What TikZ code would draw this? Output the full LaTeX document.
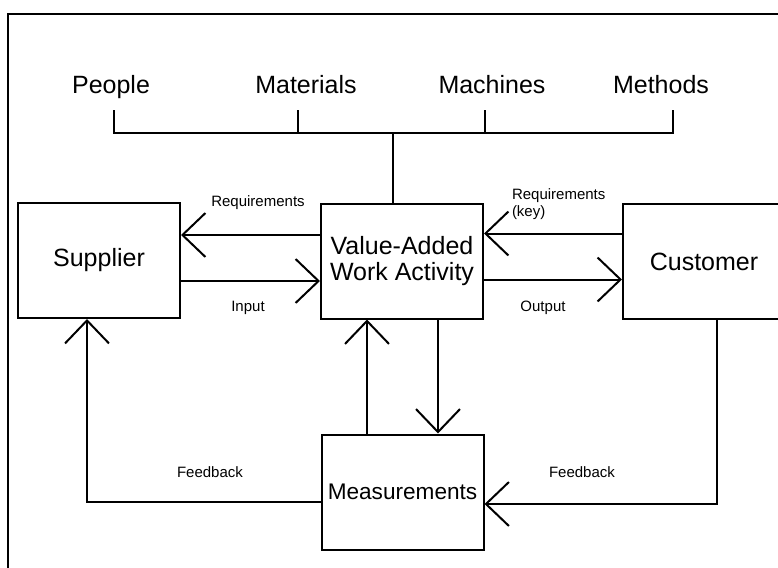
\documentclass[tikz,border=0pt]{standalone}
\usepackage{fontspec}
\setmainfont{Liberation Sans}
\usepackage{tikz}
\usetikzlibrary{arrows.meta, positioning, calc}

\begin{document}
\begin{tikzpicture}[x=0.5pt, y=-0.5pt, line width=1pt,
    box/.style={draw, line width=1pt, minimum width=81pt, minimum height=57.5pt, inner xsep=1pt, align=center, font=\fontsize{12.5}{13}\selectfont},
    res/.style={font=\fontsize{12.5}{13}\selectfont, anchor=base},
    lbl/.style={font=\fontsize{7.5}{8.5}\selectfont, align=left, inner sep=0pt},
    barb/.style={-{Straight Barb[length=11.5pt, width=22pt]}}]

    \useasboundingbox (0,0) rectangle (778,568);

    % Frame
    \draw (8,568) -- (8,14) -- (778,14);

    % Resources
    \node[res] (people) at (111,93) {People};
    \node[res] (materials) at (306,93) {Materials};
    \node[res] (machines) at (492,93) {Machines};
    \node[res] (methods) at (661,93) {Methods};

    \coordinate (c1) at (114,110);
    \coordinate (c2) at (298,110);
    \coordinate (c3) at (485,110);
    \coordinate (c4) at (673,110);

    % Boxes
    \node[box] (supplier) at (99,260.5) {Supplier};
    \node[box] (va) at (402,261) {Value-Added\\Work Activity};
    \node[box] (customer) at (704,261.5) {Customer};
    \node[box, font=\fontsize{11.3}{13}\selectfont] (meas) at (402.5,492) {Measurements};

    % Bracket
    \draw (c1) -- ++(0,23) -| (c4);
    \draw (c2) -- ++(0,23);
    \draw (c3) -- ++(0,23);
    \draw ([xshift=-4.5pt]va.north) -- ++(0,-71);

    % Arrows between boxes
    \draw[barb] ([yshift=13pt]va.west) -- ([yshift=13pt]va.west -| supplier.east);
    \draw[barb] ([yshift=-10pt]va.west -| supplier.east) -- ([yshift=-10pt]va.west);
    \draw[barb] ([yshift=14pt]customer.west) -- ([yshift=14pt]customer.west -| va.east);
    \draw[barb] ([yshift=-9pt]customer.west -| va.east) -- ([yshift=-9pt]customer.west);

    \draw[barb] ([xshift=-17.75pt]meas.north) -- ([xshift=-17.75pt]meas.north |- va.south);
    \draw[barb] ([xshift=18pt]va.south) -- ([xshift=18pt]va.south |- meas.north);

    % Feedback loops
    \draw[barb] ([yshift=-5pt]meas.west) -| ([xshift=-6pt]supplier.south);
    \draw[barb] ([xshift=6.5pt]customer.south) |- ([yshift=-6pt]meas.east);

    % Labels
    \node[lbl] (req) at (258,203) {Requirements};
    \node[lbl, anchor=west] (reqkey) at (511,204) {Requirements\\(key)};
    \node[lbl] (input) at (248,308) {Input};
    \node[lbl] (output) at (543,308) {Output};
    \node[lbl] (fb1) at (210,472) {Feedback};
    \node[lbl] (fb2) at (582,472) {Feedback};

\end{tikzpicture}
\end{document}
